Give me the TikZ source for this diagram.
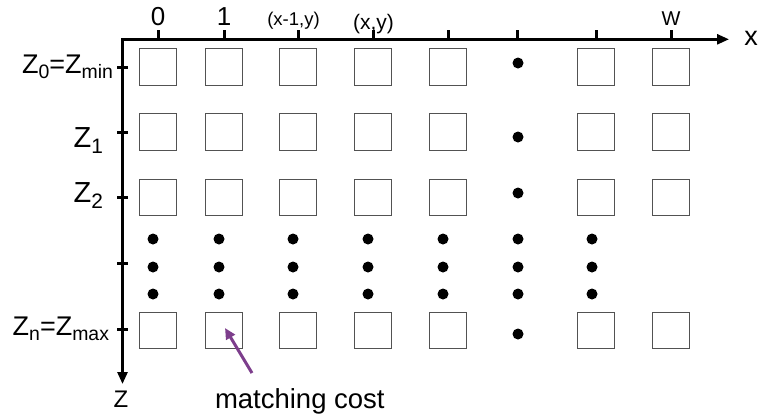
\documentclass[tikz,border=0pt]{standalone}
\usepackage{fontspec}
\setmainfont{Liberation Sans}
\usetikzlibrary{arrows.meta,calc}
\definecolor{costpurple}{RGB}{125,62,140}
\newcommand\lowsub[1]{\raisebox{-0.22em}{\scalebox{0.72}{#1}}}
\begin{document}
\begin{tikzpicture}[x=1pt,y=-1pt,
  cell/.style={draw=black!68, line width=1.4pt, minimum size=36.5pt, inner sep=0pt, outer sep=0pt},
  pip/.style={circle, fill=black, inner sep=0pt, minimum size=11pt},
  axis/.style={line width=2.6pt, line join=miter,
    {Triangle[length=12pt,width=10pt]}-{Triangle[length=12pt,width=10pt]}},
  tickmark/.style={line width=3pt},
  lbl/.style={inner sep=0pt, outer sep=0pt},
  big/.style={lbl, font=\fontsize{27}{30}\selectfont},
  huge/.style={lbl, font=\fontsize{29}{32}\selectfont},
  digit/.style={lbl, font=\fontsize{26}{29}\selectfont},
  mid/.style={lbl, font=\fontsize{21}{24}\selectfont},
  small/.style={lbl, font=\fontsize{18.5}{22}\selectfont},
  costarrow/.style={draw=costpurple, line width=3pt, -{Triangle[length=11pt,width=10pt]}}
]
\useasboundingbox (0,0) rectangle (760,416);

% axes
\coordinate (O) at (122.5,39.3);
\coordinate (xend) at (729,39.3);
\coordinate (zend) at (122.5,384);
\draw[axis] (xend) -- (O) -- (zend);
\node[big, anchor=base] (xlab) at (751,45) {x};
\node[lbl, font=\fontsize{24}{28}\selectfont, anchor=base] (zlab) at (121,407) {Z};

% ticks on the x axis with their labels
\foreach \x in {158,224,298,373,448,517,596,671}
  \draw[tickmark] (\x,39.3) -- (\x,30);
\node[digit, anchor=base] (t0) at (158,25) {0};
\node[digit, anchor=base] (t1) at (224,25) {1};
\node[small, anchor=base] (txm) at (293.5,25.5) {(x-1,y)};
\node[mid, anchor=base] (txy) at (373.5,29) {(x,y)};
\node[lbl, font=\fontsize{20}{24}\selectfont, anchor=base] (tw) at (671,25) {W};

% ticks on the depth axis with their labels
\foreach \y in {67,132,197,263,329}
  \draw[tickmark] (117,\y) -- (127.5,\y);
\node[big, anchor=base east] (z0) at (113,73) {Z\lowsub{0}=Z\lowsub{min}};
\node[huge, anchor=base east] (z1) at (103,147) {Z\lowsub{1}};
\node[huge, anchor=base east] (z2) at (103,202) {Z\lowsub{2}};
\node[big, anchor=base east] (zn) at (109,335) {Z\lowsub{n}=Z\lowsub{max}};

% cost volume cells
\foreach \r/\y in {0/67,1/132,2/197.5,n/330.5}
  \foreach \c/\x in {0/158,1/224,2/298,3/373,4/448,6/596,7/671}
    \node[cell] (c\r-\c) at (\x,\y) {};

% elided column
\node[pip] (d0) at (518,63) {};
\node[pip] (d1) at (518,137) {};
\node[pip] (d2) at (518,193) {};
\node[pip] (dn) at (518,334) {};

% elided rows
\foreach \x [count=\i] in {153,219,293,368,443,518,592}
  \foreach \y [count=\j] in {239,267,294}
    \node[pip] (e\i-\j) at (\x,\y) {};

% annotation
\node[lbl, font=\fontsize{27.5}{30}\selectfont, anchor=base west] (cost) at (215,408) {matching cost};
\coordinate (cstart) at (252,373);
\draw[costarrow] (cstart) -- ([xshift=1pt,yshift=2.5pt]cn-1.center);
\end{tikzpicture}
\end{document}
